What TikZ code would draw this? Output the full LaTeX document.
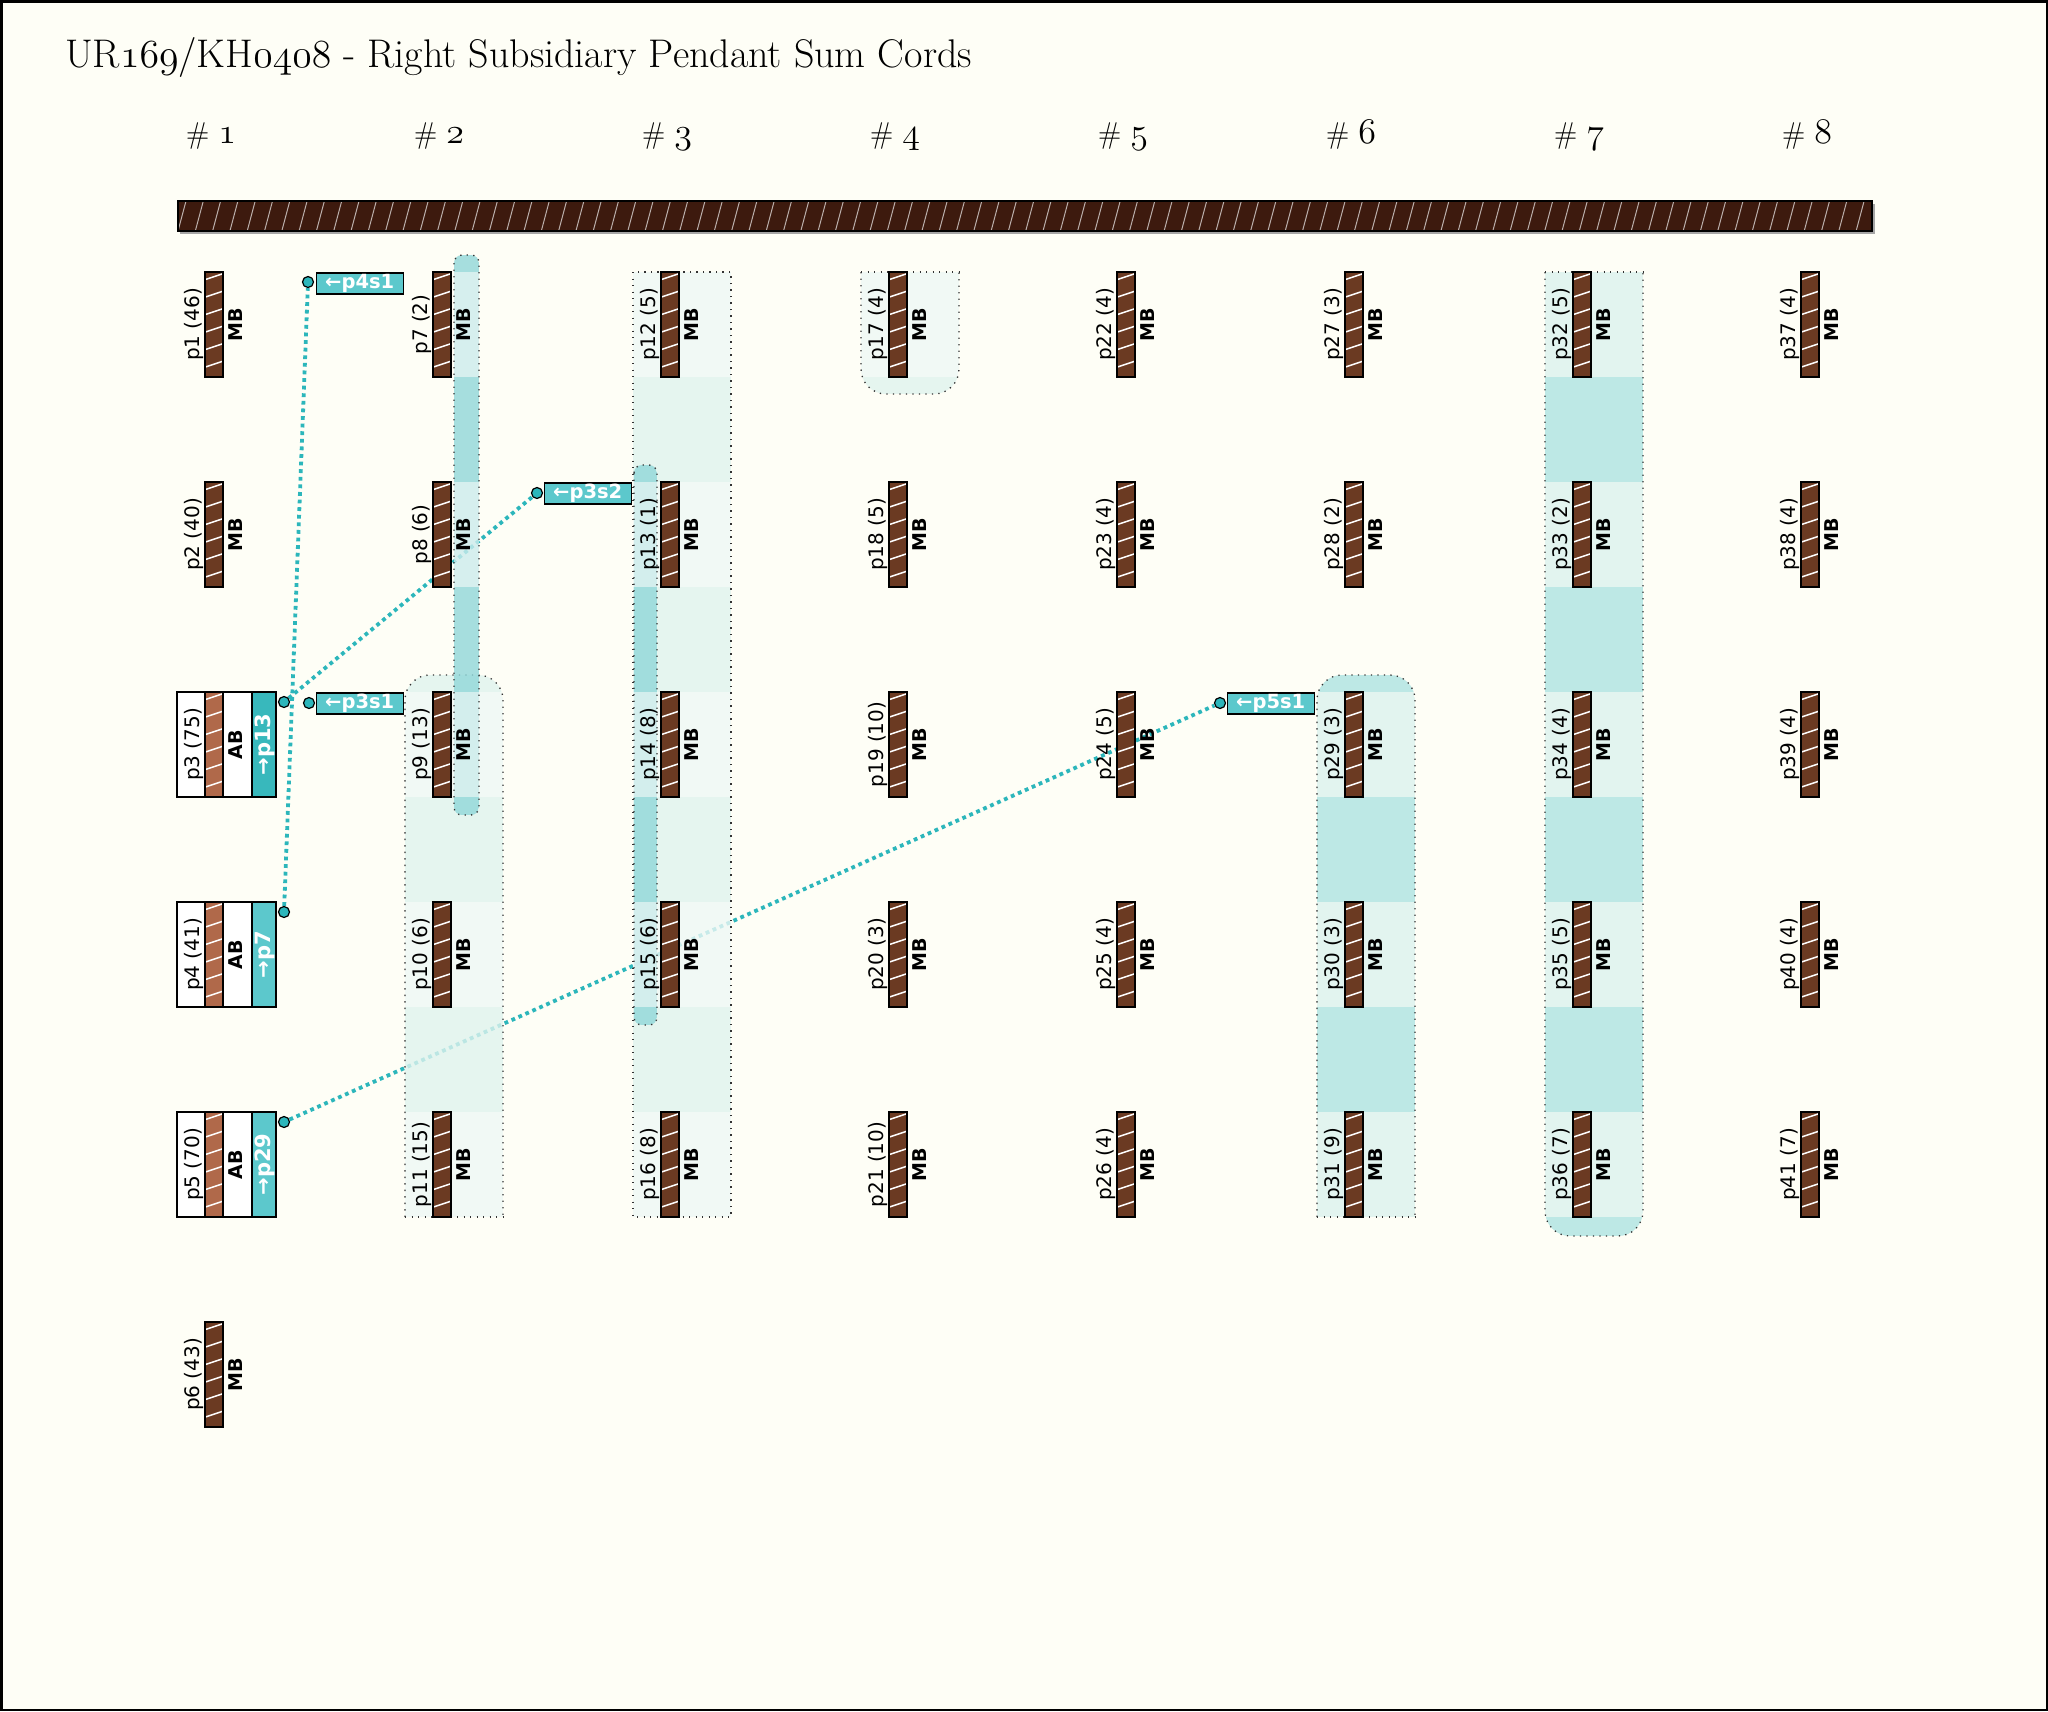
\documentclass[tikz,border=0pt]{standalone}
\usepackage{fontspec}
\newfontfamily\dvs{DejaVu Sans}
\usetikzlibrary{calc}
\newcommand\osf[2]{\scalebox{#1}{\fontsize{24.88}{25}\usefont{OML}{cmm}{m}{it}#2}}
\definecolor{bgc}{HTML}{FEFEF6}
\definecolor{barc}{HTML}{3D1A0E}
\definecolor{cordc}{HTML}{6B3A22}
\definecolor{abc}{HTML}{B0694A}
\definecolor{tealL}{HTML}{5CC8CC}
\definecolor{tealD}{HTML}{38B8BC}
\definecolor{linec}{HTML}{2CB6BB}
\definecolor{wrow}{HTML}{EEF8F5}
\definecolor{wgap}{HTML}{DFF3EE}
\definecolor{srow}{HTML}{DBF2EE}
\definecolor{sgap}{HTML}{ADE3E1}
\definecolor{nrow}{HTML}{CCECEC}
\definecolor{ngap}{HTML}{90D7D9}
\pgfdeclarelayer{bgl}\pgfdeclarelayer{lines}\pgfdeclarelayer{bands}
\pgfsetlayers{bgl,lines,bands,main}
\newcommand\bandfill[3]{\foreach \ya/\yb/\cl in {#3}{\fill[\cl, fill opacity=0.8] (#1,\ya) rectangle (#2,\yb);}}
\begin{document}
\begin{tikzpicture}[x=1pt,y=-1pt,
 cordn/.style={draw=black, line width=1.4pt, fill=cordc, minimum width=18pt, minimum height=105pt, inner sep=0pt, outer sep=0pt,
   path picture={\foreach \k in {0,...,5}{\draw[white, line width=1.5pt] ($(path picture bounding box.north west)+(-1,{8+17.5*\k})$) -- ++(20,-6.7);}}},
 plbl/.style={rotate=90, anchor=south, inner sep=1.5pt, font=\dvs\fontsize{20}{20}\selectfont},
 mbl/.style={rotate=90, anchor=north, inner sep=5pt, font=\dvs\bfseries\fontsize{19}{19}\selectfont},
 hdr/.style={anchor=base, inner sep=0pt, font=\fontsize{30}{30}\selectfont},
 sbox/.style={draw=black, line width=1.5pt, fill=tealL, text=white, font=\dvs\bfseries\fontsize{19.5}{19.5}\selectfont, minimum width=87pt, minimum height=21pt, inner sep=0pt, anchor=north east},
 dotc/.style={circle, draw=black, line width=1.2pt, fill=linec, minimum size=11pt, inner sep=0pt},
 conn/.style={linec, line width=3.8pt, dash pattern=on 3.8pt off 3.8pt},
 bord/.style={black!80, line width=1.3pt, dash pattern=on 1.3pt off 5.2pt},
]
\useasboundingbox (0,0) rectangle (2048,1711);
\begin{pgfonlayer}{bgl}
\fill[bgc] (0,0) rectangle (2048,1711);
\end{pgfonlayer}

% title and headers
\node[anchor=base west, inner sep=0pt, font=\fontsize{40}{40}\selectfont] (title) at (65,67) {UR\osf{1.6}{169}/KH\osf{1.6}{0408} - Right Subsidiary Pendant Sum Cords};
\foreach \c in {1,...,8} \node[hdr] (h\c) at ({211+228*(\c-1)},143) {\#\ \osf{1.45}{\c}};

% main cord
\fill[black!35] (180,204) rectangle (1875,234);
\node[draw=black, line width=2.5pt, fill=barc, minimum width=1694pt, minimum height=30pt, inner sep=0pt,
  path picture={\foreach \i in {0,...,98}{\draw[white!65!barc, line width=1pt] ($(path picture bounding box.south west)+({17.3*\i},0)$) -- ++(8,-30);}}] (top) at (1025,216) {};

% bands
\begin{pgfonlayer}{bands}
\bandfill{633}{731}{272/377/wrow,377/482/wgap,482/587/wrow,587/692/wgap,692/797/wrow,797/902/wgap,902/1007/wrow,1007/1112/wgap,1112/1217/wrow}
\draw[bord] (633,272) rectangle (731,1217);
\begin{scope}
\clip[rounded corners=25pt] (405,1217) -- (405,675) -- (503,675) -- (503,1217);
\bandfill{405}{503}{675/692/wgap,692/797/wrow,797/902/wgap,902/1007/wrow,1007/1112/wgap,1112/1217/wrow}
\end{scope}
\draw[bord, rounded corners=25pt] (405,1217) -- (405,675) -- (503,675) -- (503,1217);
\draw[bord] (405,1217) -- (503,1217);
\begin{scope}
\clip[rounded corners=25pt] (861,272) -- (861,394) -- (959,394) -- (959,272);
\bandfill{861}{959}{272/377/wrow,377/394/wgap}
\end{scope}
\draw[bord, rounded corners=25pt] (861,272) -- (861,394) -- (959,394) -- (959,272);
\draw[bord] (861,272) -- (959,272);
\begin{scope}
\clip[rounded corners=25pt] (1317,1217) -- (1317,675) -- (1415,675) -- (1415,1217);
\bandfill{1317}{1415}{675/692/sgap,692/797/srow,797/902/sgap,902/1007/srow,1007/1112/sgap,1112/1217/srow}
\end{scope}
\draw[bord, rounded corners=25pt] (1317,1217) -- (1317,675) -- (1415,675) -- (1415,1217);
\draw[bord] (1317,1217) -- (1415,1217);
\begin{scope}
\clip[rounded corners=25pt] (1545,272) -- (1545,1236) -- (1643,1236) -- (1643,272);
\bandfill{1545}{1643}{272/377/srow,377/482/sgap,482/587/srow,587/692/sgap,692/797/srow,797/902/sgap,902/1007/srow,1007/1112/sgap,1112/1217/srow,1217/1236/sgap}
\end{scope}
\draw[bord, rounded corners=25pt] (1545,272) -- (1545,1236) -- (1643,1236) -- (1643,272);
\draw[bord] (1545,272) -- (1643,272);
\begin{scope}
\clip[rounded corners=8pt] (454,255) rectangle (479,815);
\bandfill{454}{479}{255/272/ngap,272/377/nrow,377/482/ngap,482/587/nrow,587/692/ngap,692/797/nrow,797/815/ngap}
\end{scope}
\draw[bord, rounded corners=8pt] (454,255) rectangle (479,815);
\begin{scope}
\clip[rounded corners=8pt] (634,465) rectangle (657,1025);
\bandfill{634}{657}{465/482/ngap,482/587/nrow,587/692/ngap,692/797/nrow,797/902/ngap,902/1007/nrow,1007/1025/ngap}
\end{scope}
\draw[bord, rounded corners=8pt] (634,465) rectangle (657,1025);
\end{pgfonlayer}

% plain cords
\foreach \n/\c/\r/\v in {1/1/1/46,2/1/2/40,6/1/6/43,7/2/1/2,8/2/2/6,9/2/3/13,10/2/4/6,11/2/5/15,12/3/1/5,13/3/2/1,14/3/3/8,15/3/4/6,16/3/5/8,17/4/1/4,18/4/2/5,19/4/3/10,20/4/4/3,21/4/5/10,22/5/1/4,23/5/2/4,24/5/3/5,25/5/4/4,26/5/5/4,27/6/1/3,28/6/2/2,29/6/3/3,30/6/4/3,31/6/5/9,32/7/1/5,33/7/2/2,34/7/3/4,35/7/4/5,36/7/5/7,37/8/1/4,38/8/2/4,39/8/3/4,40/8/4/4,41/8/5/7}{
  \node[cordn] (p\n) at ({214+228*(\c-1)},{324.5+210*(\r-1)}) {};
  \node[plbl] (lp\n) at (p\n.west) {p\n\ (\v)};
  \node[mbl] (mb\n) at (p\n.east) {MB};
}

% sum cords with AB
\foreach \n/\r/\v/\t/\tc in {3/3/75/p13/tealD,4/4/41/p7/tealL,5/5/70/p29/tealL}{
  \fill[white] (177,{692+210*(\r-3)}) rectangle (252,{797+210*(\r-3)});
  \fill[\tc] (252,{692+210*(\r-3)}) rectangle (276,{797+210*(\r-3)});
  \node[cordn, fill=abc] (p\n) at (214,{324.5+210*(\r-1)}) {};
  \draw[line width=1.5pt] (177,{692+210*(\r-3)}) rectangle (276,{797+210*(\r-3)});
  \draw[line width=1.5pt] (252,{692+210*(\r-3)}) -- (252,{797+210*(\r-3)});
  \node[plbl] (lp\n) at (p\n.west) {p\n\ (\v)};
  \node[mbl] (ab\n) at (p\n.east) {AB};
  \node[rotate=90, inner sep=0pt, text=white, font=\dvs\bfseries\fontsize{21}{21}\selectfont] (s\n) at (265,{324.5+210*(\r-1)}) {→\t};
  \node[dotc] (c\n) at (284,{702+210*(\r-3)}) {};
}

% subsidiary labels
\node[sbox] (p4s1) at (404,272) {←p4s1};
\node[dotc] (d4s1) at (308,282) {};
\node[sbox] (p3s1) at (404,692) {←p3s1};
\node[dotc] (d3s1) at (309,703) {};
\node[sbox] (p3s2) at (632,482) {←p3s2};
\node[dotc] (d3s2) at (537,493) {};
\node[sbox] (p5s1) at (1315,692) {←p5s1};
\node[dotc] (d5s1) at (1220,703) {};

\begin{pgfonlayer}{lines}
\draw[conn] (c4) -- (d4s1);
\draw[conn] (c3) -- (d3s2);
\draw[conn] (c5) -- (d5s1);
\end{pgfonlayer}

\draw[line width=2.5pt] (1.25,1.25) rectangle (2046.75,1709.75);
\end{tikzpicture}
\end{document}
